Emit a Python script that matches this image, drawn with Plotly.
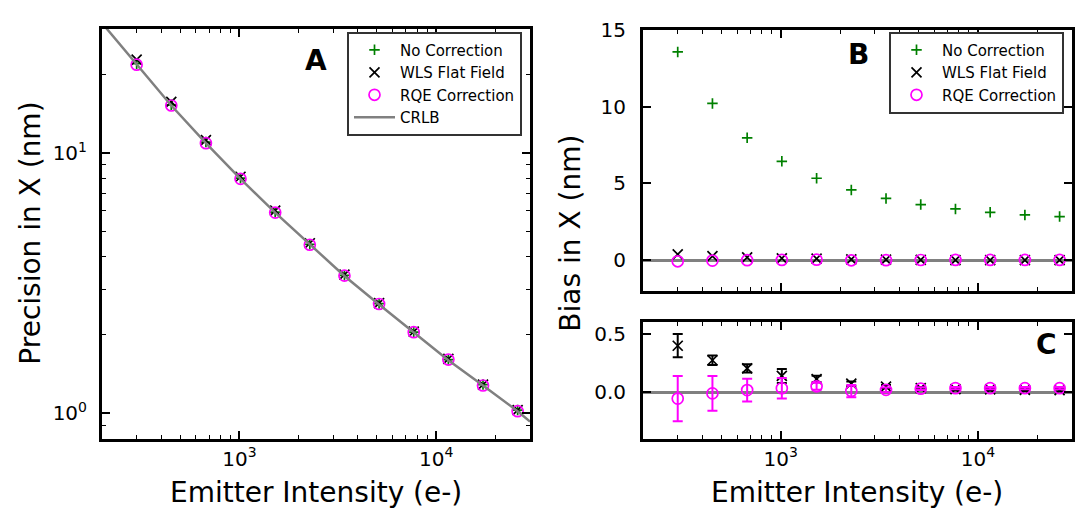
import plotly.graph_objects as go

# ---------------- data ----------------
intensity = [300, 450, 675, 1012, 1519, 2278, 3417, 5126, 7689, 11533, 17300, 25949]

prec_none = [22.0, 15.3, 11.0, 8.0, 5.92, 4.46, 3.39, 2.64, 2.05, 1.61, 1.29, 1.03]
prec_wls = [22.8, 15.7, 11.2, 8.1, 6.0, 4.5, 3.41, 2.65, 2.06, 1.62, 1.29, 1.03]
prec_rqe = [21.8, 15.2, 10.9, 7.95, 5.9, 4.44, 3.38, 2.63, 2.05, 1.61, 1.28, 1.02]

crlb_x = [200, 300, 450, 675, 1012, 1519, 2278, 3417, 5126, 7689, 11533, 17300, 25949, 30000]
crlb_y = [31.5, 21.9, 15.2, 10.9, 7.95, 5.9, 4.44, 3.37, 2.62, 2.04, 1.60, 1.28, 1.02, 0.93]

bias_none = [13.55, 10.2, 7.97, 6.44, 5.34, 4.58, 4.03, 3.63, 3.35, 3.13, 2.96, 2.85]
bias_wls = [0.40, 0.275, 0.205, 0.14, 0.113, 0.073, 0.048, 0.035, 0.027, 0.025, 0.02, 0.018]
err_wls = [0.10, 0.04, 0.035, 0.06, 0.028, 0.02, 0.015, 0.01, 0.01, 0.01, 0.01, 0.01]
bias_rqe = [-0.055, -0.01, 0.018, 0.034, 0.051, 0.01, 0.02, 0.03, 0.035, 0.035, 0.035, 0.035]
err_rqe = [0.195, 0.15, 0.097, 0.088, 0.03, 0.053, 0.02, 0.012, 0.01, 0.01, 0.01, 0.01]

x_major = [1000, 10000]
x_major_text = ["10<sup>3</sup>", "10<sup>4</sup>"]
x_minor = [200, 300, 400, 500, 600, 700, 800, 900,
           2000, 3000, 4000, 5000, 6000, 7000, 8000, 9000, 20000, 30000]
ya_major = [1, 10]
ya_major_text = ["10<sup>0</sup>", "10<sup>1</sup>"]
ya_minor = [0.8, 0.9, 2, 3, 4, 5, 6, 7, 8, 9, 20, 30]
yb_ticks = [0, 5, 10, 15]
yc_ticks = [0.0, 0.5]
yc_text = ["0.0", "0.5"]

# ---------------- style ----------------
W, H = 1080, 508
GREEN = "#008000"
MAG = "#FF00FF"
GRAY = "#808080"
FONT = "DejaVu Sans"


def px(x):
    return x / W


def py(y):
    return 1 - y / H


def mk(symbol, color, size):
    return dict(symbol=symbol, size=size, color=color, line=dict(color=color, width=1.7))


M_PLUS = ("cross-thin-open", GREEN, 7.5)
M_X = ("x-thin-open", "black", 10)
M_O = ("circle-open", MAG, 11)

fig = go.Figure()

# Panel A
fig.add_trace(go.Scatter(x=intensity, y=prec_none, mode="markers", name="No Correction",
                         marker=mk(*M_PLUS), xaxis="x", yaxis="y", legend="legend"))
fig.add_trace(go.Scatter(x=intensity, y=prec_wls, mode="markers", name="WLS Flat Field",
                         marker=mk(*M_X), xaxis="x", yaxis="y", legend="legend"))
fig.add_trace(go.Scatter(x=intensity, y=prec_rqe, mode="markers", name="RQE Correction",
                         marker=mk(*M_O), xaxis="x", yaxis="y", legend="legend"))
fig.add_trace(go.Scatter(x=crlb_x, y=crlb_y, mode="lines", name="CRLB",
                         line=dict(color=GRAY, width=2.5),
                         xaxis="x", yaxis="y", legend="legend"))

# Panel B
fig.add_trace(go.Scatter(x=intensity, y=bias_none, mode="markers", name="No Correction",
                         marker=mk(*M_PLUS), xaxis="x2", yaxis="y2", legend="legend2"))
fig.add_trace(go.Scatter(x=intensity, y=bias_wls, mode="markers", name="WLS Flat Field",
                         marker=mk(*M_X), xaxis="x2", yaxis="y2", legend="legend2"))
fig.add_trace(go.Scatter(x=intensity, y=bias_rqe, mode="markers", name="RQE Correction",
                         marker=mk(*M_O), xaxis="x2", yaxis="y2", legend="legend2"))

# Panel C
fig.add_trace(go.Scatter(x=intensity, y=bias_wls, mode="markers", showlegend=False,
                         marker=mk(*M_X),
                         error_y=dict(type="data", array=err_wls, color="black", thickness=2, width=5),
                         xaxis="x3", yaxis="y3"))
fig.add_trace(go.Scatter(x=intensity, y=bias_rqe, mode="markers", showlegend=False,
                         marker=mk(*M_O),
                         error_y=dict(type="data", array=err_rqe, color=MAG, thickness=2, width=5),
                         xaxis="x3", yaxis="y3"))

axis_common = dict(showline=True, linewidth=3, linecolor="black", mirror="ticks",
                   ticks="inside", ticklen=8, tickwidth=2, tickcolor="black",
                   showgrid=False, zeroline=False,
                   tickfont=dict(family=FONT, size=20, color="black"))

minor_x = dict(tickvals=x_minor, ticks="inside", ticklen=4, tickwidth=1, tickcolor="black", showgrid=False)

xa_dom = [px(102), px(530)]
xr_dom = [px(643), px(1072)]
xrange_log = [2.301, 4.477]

fig.update_layout(
    width=W, height=H,
    margin=dict(l=0, r=0, t=0, b=0),
    paper_bgcolor="white", plot_bgcolor="white",
    font=dict(family=FONT, color="black"),
    xaxis=dict(domain=xa_dom, type="log", range=xrange_log, anchor="y",
               tickvals=x_major, ticktext=x_major_text, minor=minor_x, **axis_common),
    yaxis=dict(domain=[py(437), py(17)], type="log", range=[-0.0969, 1.4771], anchor="x",
               tickvals=ya_major, ticktext=ya_major_text, ticklabelstandoff=8,
               minor=dict(tickvals=ya_minor, ticks="inside", ticklen=4, tickwidth=1,
                          tickcolor="black", showgrid=False),
               **axis_common),
    xaxis2=dict(domain=xr_dom, type="log", range=xrange_log, anchor="y2",
                tickvals=x_major, showticklabels=False, minor=minor_x, **axis_common),
    yaxis2=dict(domain=[py(286), py(18)], range=[-2, 15], anchor="x2",
                tickvals=yb_ticks, ticklabelstandoff=10, **{**axis_common, "zeroline": True},
                zerolinecolor=GRAY, zerolinewidth=3),
    xaxis3=dict(domain=xr_dom, type="log", range=xrange_log, anchor="y3",
                tickvals=x_major, ticktext=x_major_text, minor=minor_x, **axis_common),
    yaxis3=dict(domain=[py(437), py(318)], range=[-0.4, 0.6], anchor="x3",
                tickvals=yc_ticks, ticktext=yc_text, ticklabelstandoff=10,
                **{**axis_common, "zeroline": True},
                zerolinecolor=GRAY, zerolinewidth=3),
    legend=dict(x=px(347), y=py(20), xanchor="left", yanchor="top",
                bgcolor="white", bordercolor="#333333", borderwidth=2,
                font=dict(family=FONT, size=15, color="black"), itemwidth=41,
                tracegroupgap=0),
    legend2=dict(x=px(889), y=py(20), xanchor="left", yanchor="top",
                 bgcolor="white", bordercolor="#333333", borderwidth=2,
                 font=dict(family=FONT, size=15, color="black"), itemwidth=41,
                 tracegroupgap=0),
)

annos = [
    dict(text="<b>A</b>", x=px(316), y=py(50), size=28),
    dict(text="<b>B</b>", x=px(858), y=py(44), size=28),
    dict(text="<b>C</b>", x=px(1046), y=py(341), size=28),
]
for a in annos:
    fig.add_annotation(text=a["text"], x=a["x"], y=a["y"], xref="paper", yref="paper",
                       xanchor="center", yanchor="middle", showarrow=False,
                       font=dict(family=FONT, size=a["size"], color="black"))

titles = [
    dict(text="Emitter Intensity (e-)", x=px(316), y=py(492), angle=0),
    dict(text="Emitter Intensity (e-)", x=px(857), y=py(492), angle=0),
    dict(text="Precision in X (nm)", x=px(31), y=py(227), angle=-90),
    dict(text="Bias in X (nm)", x=px(571), y=py(227), angle=-90),
]
for t in titles:
    fig.add_annotation(text=t["text"], x=t["x"], y=t["y"], xref="paper", yref="paper",
                       xanchor="center", yanchor="middle", showarrow=False, textangle=t["angle"],
                       font=dict(family=FONT, size=28, color="black"))

fig.write_html("out.html", config={"displayModeBar": False},
               post_script="document.body.style.margin='0';document.body.style.overflow='hidden';")
